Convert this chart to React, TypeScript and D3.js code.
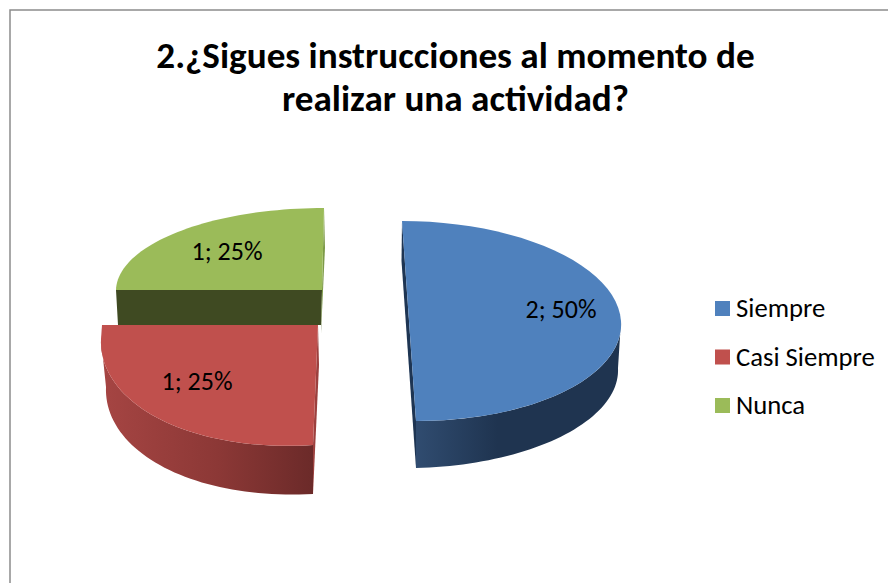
import React from "react";
import * as d3 from "d3";

const titleLines = ["2.¿Sigues instrucciones al momento de", "realizar una actividad?"];
const categories = ["Siempre", "Casi Siempre", "Nunca"];
const values = [2, 1, 1];
const colors = ["#4f81bd", "#c0504d", "#9bbb59"];
const labelTexts = ["2; 50%", "1; 25%", "1; 25%"];

type V2 = [number, number];
const W = 888, H = 583;

// Perspective frame of each exploded slice (top face, then floor of the wall)
const frames: { c: V2; u: V2; v: V2; bc: V2; bu: V2; bv: V2 }[] = [
  { c: [409, 321], u: [212, 0], v: [-7, -100], bc: [411, 373], bu: [207, -5], bv: [-5, -95] },
  { c: [318, 325], u: [217, -14], v: [5, -120], bc: [318, 375], bu: [212, -12], bv: [5, -119] },
  { c: [322, 290], u: [206, 0], v: [2, -82], bc: [321, 325], bu: [203, 0], bv: [2, -82] },
];

const pieGen = d3.pie<number>().sort(null).startAngle(0).endAngle(2 * Math.PI);
const arcs = pieGen(values);

function pt(c: V2, u: V2, v: V2, a: number): V2 {
  const s = Math.sin(a), k = Math.cos(a);
  return [c[0] + u[0] * s + v[0] * k, c[1] + u[1] * s + v[1] * k];
}
function samples(a0: number, a1: number, n = 48) {
  return d3.range(n + 1).map((i) => a0 + ((a1 - a0) * i) / n);
}
const line = d3.line<V2>().x((d) => d[0]).y((d) => d[1]);

export default function App() {
  const legendY = d3.scalePoint<string>().domain(categories).range([308, 405]);
  const blue = frames[0], red = frames[1], green = frames[2];
  const aB = arcs[0], aR = arcs[1], aG = arcs[2];

  const face = (f: typeof blue, a: { startAngle: number; endAngle: number }, extra: V2[] = []) =>
    line([f.c, ...samples(a.startAngle, a.endAngle).map((t) => pt(f.c, f.u, f.v, t)), ...extra])! + "Z";

  const wall = (f: typeof blue, a0: number, a1: number) => {
    const top = samples(a0, a1).map((t) => pt(f.c, f.u, f.v, t));
    const bot = samples(a1, a0).map((t) => pt(f.bc, f.bu, f.bv, t));
    return line([...top, ...bot])! + "Z";
  };

  // Flat cut faces
  const blueTop = pt(blue.c, blue.u, blue.v, aB.startAngle);
  const blueBot = pt(blue.c, blue.u, blue.v, aB.endAngle);
  const blueFloor = pt(blue.bc, blue.bu, blue.bv, aB.endAngle);
  const blueCut: V2[] = [blueTop, [blueTop[0] - 0.5, blueTop[1] + 40], blueFloor, blueBot];

  const redBot = pt(red.c, red.u, red.v, aR.startAngle);
  const redFloor = pt(red.bc, red.bu, red.bv, aR.startAngle);
  const redCut: V2[] = [red.c, [red.c[0] + 1, red.c[1] + 40], redFloor, redBot];
  const redCorner: V2 = [red.c[0] - red.u[0] + 1, red.c[1]];

  const greenTop = pt(green.c, green.u, green.v, aG.endAngle);
  const greenLeft = pt(green.c, green.u, green.v, aG.startAngle);
  const greenFloorLeft = pt(green.bc, green.bu, green.bv, aG.startAngle);
  const greenCut: V2[] = [greenLeft, green.c, [green.c[0] - 1, green.bc[1] + 8], [green.c[0] - 1, green.bc[1]], greenFloorLeft];
  const greenSide: V2[] = [greenTop, [greenTop[0] + 1, greenTop[1] + 40], [green.c[0] - 1, green.bc[1] + 8], green.c];

  return (
    <svg width={W} height={H} viewBox={`0 0 ${W} ${H}`} style={{ position: "fixed", left: 0, top: 0, background: "#fff" }}>
      <defs>
        <linearGradient id="bw" gradientUnits="userSpaceOnUse" x1={416} x2={620} y1={0} y2={0}>
          <stop offset={0} stopColor="#304c70" />
          <stop offset={0.4} stopColor="#1f3450" />
          <stop offset={1} stopColor="#1f3450" />
        </linearGradient>
        <linearGradient id="rw" gradientUnits="userSpaceOnUse" x1={100} x2={314} y1={0} y2={0}>
          <stop offset={0} stopColor="#a64543" />
          <stop offset={0.55} stopColor="#8c3836" />
          <stop offset={1} stopColor="#6b2a29" />
        </linearGradient>
      </defs>
      <path d="M888 10 H10 V583" fill="none" stroke="#8c8c8c" strokeWidth={1.5} />

      <g fontFamily="Carlito, Lato, sans-serif" fontWeight={700} fontSize={37.2} fill="#000" textAnchor="middle">
        {titleLines.map((t, i) => (
          <text key={t} x={455.5} y={68 + i * 43}>{t}</text>
        ))}
      </g>

      {/* green slice */}
      <path d={line(greenCut)! + "Z"} fill="#3f4a22" />
      <path d={line(greenSide)! + "Z"} fill="#7d9a48" />
      <path d={face(green, aG)} fill={colors[2]} />

      {/* red slice */}
      <path d={line(redCut)! + "Z"} fill="#9c403e" />
      <path d={wall(red, aR.startAngle, aR.endAngle)} fill="url(#rw)" />
      <path d={face(red, aR, [redCorner])} fill={colors[1]} />

      {/* blue slice */}
      <path d={line(blueCut)! + "Z"} fill="#1e3553" />
      <path d={wall(blue, Math.PI / 2, aB.endAngle)} fill="url(#bw)" />
      <path d={face(blue, aB)} fill={colors[0]} />

      <g fontFamily="Carlito, Lato, sans-serif" fontSize={26} fill="#000" textAnchor="middle">
        <text x={561} y={318}>{labelTexts[0]}</text>
        <text x={197} y={390}>{labelTexts[1]}</text>
        <text x={227} y={260}>{labelTexts[2]}</text>
      </g>

      <g fontFamily="Carlito, Lato, sans-serif" fontSize={26.7} fill="#000">
        {categories.map((c, i) => (
          <g key={c}>
            <rect x={715} y={legendY(c)! - 7} width={15} height={15} fill={colors[i]} />
            <text x={736} y={legendY(c)! + 9}>{c}</text>
          </g>
        ))}
      </g>
    </svg>
  );
}
